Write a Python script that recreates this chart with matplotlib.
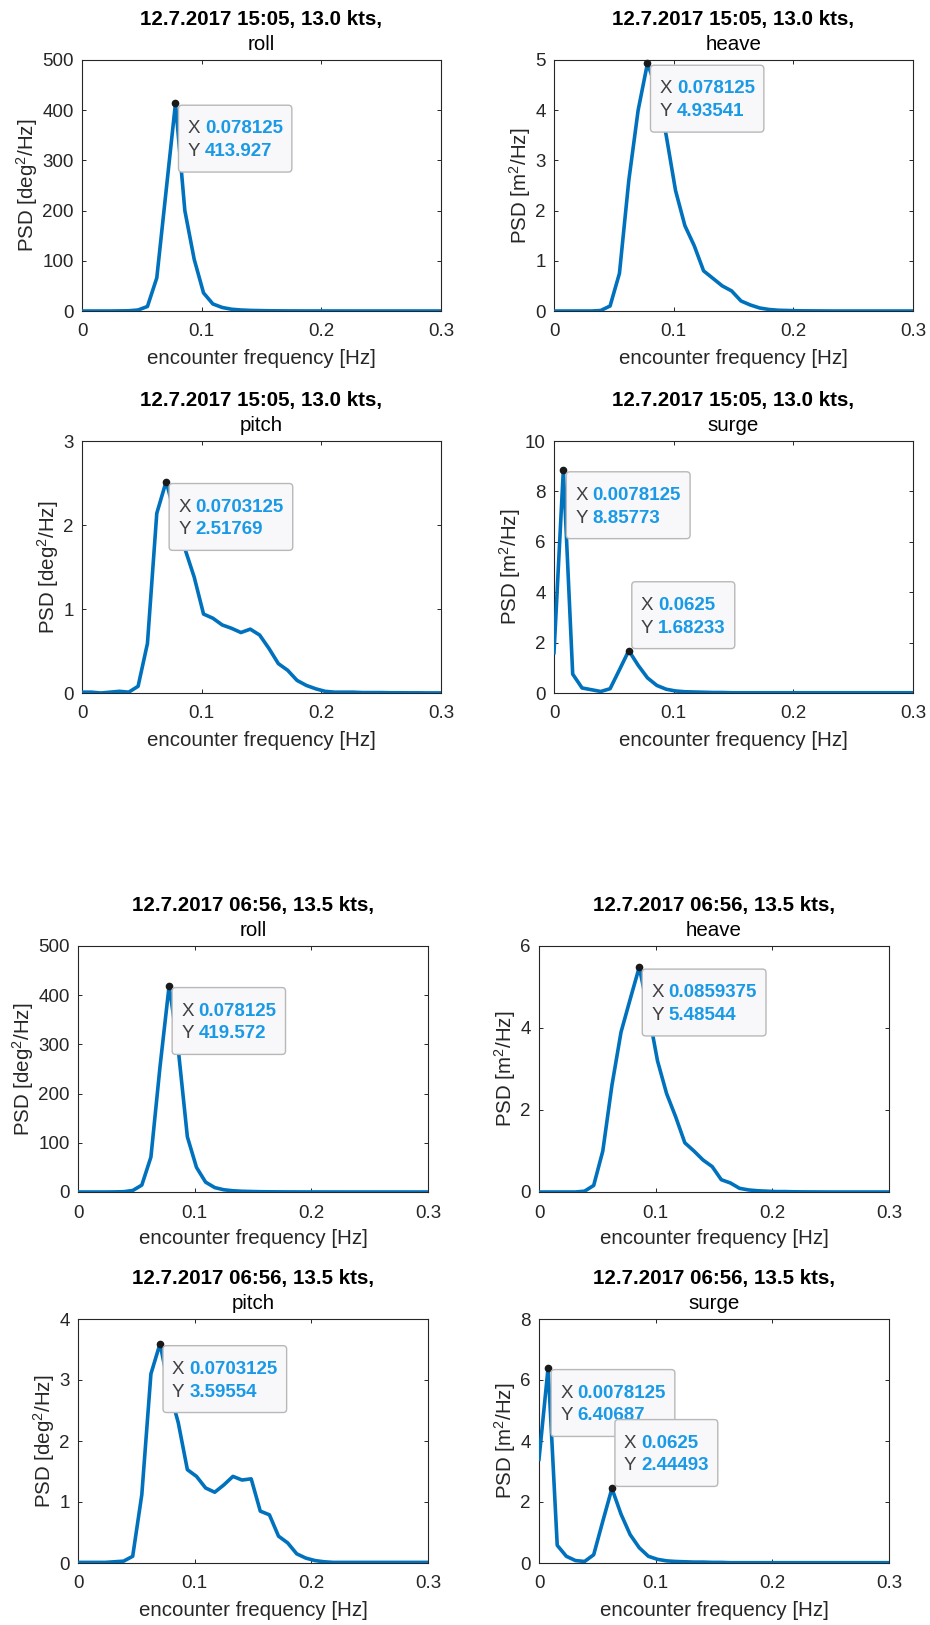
#!/usr/bin/env python3
"""
Encounter-frequency PSD of ship motions for two runs (MATLAB-style panels).
"""
import matplotlib
matplotlib.use("Agg")
import matplotlib.pyplot as plt
from matplotlib.patches import FancyBboxPatch
from matplotlib.transforms import Bbox

plt.rcParams['font.family'] = ['Liberation Sans', 'DejaVu Sans']
plt.rcParams['mathtext.default'] = 'regular'

# frequency grid (df = 1/128 Hz)
freq = [0.0, 0.0078125, 0.015625, 0.0234375, 0.03125, 0.0390625, 0.046875, 0.0546875,
        0.0625, 0.0703125, 0.078125, 0.0859375, 0.09375, 0.1015625, 0.109375, 0.1171875,
        0.125, 0.1328125, 0.140625, 0.1484375, 0.15625, 0.1640625, 0.171875, 0.1796875,
        0.1875, 0.1953125, 0.203125, 0.2109375, 0.21875, 0.2265625, 0.234375, 0.2421875,
        0.25, 0.2578125, 0.265625, 0.2734375, 0.28125, 0.2890625, 0.296875, 0.3046875]

# run 12.7.2017 15:05
roll_1505 = [0, 0, 0, 0, 0.2, 0.5, 2, 9, 66, 240, 413.927, 200, 103, 36, 14, 7, 3.5, 2,
             1.2, 0.8, 0.5, 0.3, 0.2, 0.15, 0.1, 0.1, 0.08, 0.06, 0.05, 0.04, 0.04, 0.03,
             0.03, 0.02, 0.02, 0.02, 0.01, 0.01, 0.01, 0.01]
heave_1505 = [0, 0, 0, 0, 0, 0.01, 0.1, 0.75, 2.6, 4.0, 4.93541, 4.4, 3.5, 2.4, 1.7, 1.3,
              0.8, 0.65, 0.5, 0.4, 0.2, 0.12, 0.06, 0.03, 0.015, 0.01, 0.005, 0.003,
              0.002, 0.001, 0, 0, 0, 0, 0, 0, 0, 0, 0, 0]
pitch_1505 = [0.01, 0.01, 0.0, 0.01, 0.02, 0.01, 0.08, 0.59, 2.14, 2.51769, 2.1, 1.72,
              1.38, 0.94, 0.89, 0.81, 0.77, 0.72, 0.76, 0.69, 0.53, 0.35, 0.27, 0.15,
              0.09, 0.05, 0.02, 0.01, 0.01, 0.01, 0.005, 0.005, 0.005, 0.003, 0.003,
              0.002, 0.002, 0.001, 0.001, 0.001]
surge_1505 = [1.6, 8.85773, 0.75, 0.2, 0.13, 0.06, 0.17, 0.92, 1.68233, 1.1, 0.6, 0.3,
              0.15, 0.08, 0.05, 0.04, 0.03, 0.02, 0.02, 0.01, 0.01, 0.01, 0.01, 0.01,
              0.01, 0.01, 0.01, 0.01, 0.01, 0.01, 0.01, 0.01, 0.01, 0.01, 0.01, 0.01,
              0.01, 0.01, 0.01, 0.01]

# run 12.7.2017 06:56
roll_0656 = [0, 0, 0, 0, 0.2, 0.6, 3, 14, 71, 255, 419.572, 290, 112, 50, 20, 9, 4.5, 2.5,
             1.5, 1, 0.6, 0.4, 0.3, 0.2, 0.15, 0.12, 0.1, 0.08, 0.06, 0.05, 0.04, 0.04,
             0.03, 0.03, 0.02, 0.02, 0.02, 0.01, 0.01, 0.01]
heave_0656 = [0, 0, 0, 0, 0, 0.02, 0.16, 1.0, 2.6, 3.9, 4.7, 5.48544, 4.4, 3.2, 2.4, 1.83,
              1.2, 1.0, 0.78, 0.62, 0.3, 0.22, 0.09, 0.05, 0.03, 0.02, 0.01, 0.01, 0.005,
              0.003, 0.002, 0.001, 0, 0, 0, 0, 0, 0, 0, 0]
pitch_0656 = [0.01, 0.01, 0.01, 0.01, 0.02, 0.03, 0.11, 1.12, 3.1, 3.59554, 2.85, 2.3,
              1.53, 1.42, 1.23, 1.16, 1.28, 1.42, 1.36, 1.38, 0.85, 0.79, 0.44, 0.33,
              0.15, 0.08, 0.04, 0.02, 0.01, 0.01, 0.01, 0.01, 0.01, 0.01, 0.01, 0.01,
              0.01, 0.01, 0.01, 0.01]
surge_0656 = [3.4, 6.40687, 0.58, 0.22, 0.08, 0.05, 0.27, 1.37, 2.44493, 1.6, 0.93, 0.5,
              0.22, 0.12, 0.07, 0.05, 0.04, 0.03, 0.03, 0.02, 0.02, 0.01, 0.01, 0.01,
              0.01, 0.01, 0.01, 0.01, 0.01, 0.01, 0.01, 0.01, 0.01, 0.01, 0.01, 0.01,
              0.01, 0.01, 0.01, 0.01]

run_titles = ['12.7.2017 15:05, 13.0 kts,', '12.7.2017 06:56, 13.5 kts,']
motions = ['roll', 'heave', 'pitch', 'surge']
ylabels = {'roll': 'PSD [deg$^2$/Hz]', 'pitch': 'PSD [deg$^2$/Hz]',
           'heave': 'PSD [m$^2$/Hz]', 'surge': 'PSD [m$^2$/Hz]'}

# data tips: (x, y, x text, y text, box above marker?)
tips_1505 = {
    'roll': [(0.078125, 413.927, '0.078125', '413.927', False)],
    'heave': [(0.078125, 4.93541, '0.078125', '4.93541', False)],
    'pitch': [(0.0703125, 2.51769, '0.0703125', '2.51769', False)],
    'surge': [(0.0078125, 8.85773, '0.0078125', '8.85773', False),
              (0.0625, 1.68233, '0.0625', '1.68233', True)],
}
tips_0656 = {
    'roll': [(0.078125, 419.572, '0.078125', '419.572', False)],
    'heave': [(0.0859375, 5.48544, '0.0859375', '5.48544', False)],
    'pitch': [(0.0703125, 3.59554, '0.0703125', '3.59554', False)],
    'surge': [(0.0078125, 6.40687, '0.0078125', '6.40687', False),
              (0.0625, 2.44493, '0.0625', '2.44493', True)],
}

ylims = {('1505', 'roll'): (500, 100), ('1505', 'heave'): (5, 1),
         ('1505', 'pitch'): (3, 1), ('1505', 'surge'): (10, 2),
         ('0656', 'roll'): (500, 100), ('0656', 'heave'): (6, 2),
         ('0656', 'pitch'): (4, 1), ('0656', 'surge'): (8, 2)}

W, H = 930, 1625
# axes rectangles in pixels: left, top, right, bottom
rects = {
    ('1505', 'roll'): (82, 60, 441, 311), ('1505', 'heave'): (554, 60, 913, 311),
    ('1505', 'pitch'): (82, 441, 441, 693), ('1505', 'surge'): (554, 441, 913, 693),
    ('0656', 'roll'): (78, 946, 428, 1192), ('0656', 'heave'): (539, 946, 889, 1192),
    ('0656', 'pitch'): (78, 1319, 428, 1563), ('0656', 'surge'): (539, 1319, 889, 1563),
}

LINE = '#0072BD'
AXC = '#262626'
TIPFS = 13.5
PADX, PAD_T, PAD_B = 9, 15, 12   # box padding around tip text, pixels

fig = plt.figure(figsize=(W / 100, H / 100), dpi=100)
boxes = []   # (ax, label text, value text, zorder)


def add_tip(ax, x, y, xs, ys, above, z):
    ax.plot([x], [y], 'o', ms=4.5, color='#1a1a1a', zorder=z, clip_on=False)
    va = 'bottom' if above else 'top'
    dx = (3 + PADX) * 0.72
    dy = (2 + PAD_B) * 0.72 if above else -(2 + PAD_T) * 0.72
    lab = ax.annotate("X\nY", xy=(x, y), xytext=(dx, dy),
                      textcoords='offset points', fontsize=TIPFS, linespacing=1.45,
                      va=va, ha='left', color='#404040', zorder=z + 2,
                      annotation_clip=False)
    val = ax.annotate(f"{xs}\n{ys}", xy=(1, 0 if above else 1), xycoords=lab,
                      xytext=(3.5, 0), textcoords='offset points', fontsize=TIPFS,
                      linespacing=1.45, va=va, ha='left', color='#1A9AE6',
                      fontweight='bold', zorder=z + 2, annotation_clip=False)
    boxes.append((ax, lab, val, z + 1))


runs = [('1505', run_titles[0], {'roll': roll_1505, 'heave': heave_1505,
                                 'pitch': pitch_1505, 'surge': surge_1505}, tips_1505),
        ('0656', run_titles[1], {'roll': roll_0656, 'heave': heave_0656,
                                 'pitch': pitch_0656, 'surge': surge_0656}, tips_0656)]

z = 10
for key, title, series, tips in runs:
    for m in motions:
        l, t, r, b = rects[(key, m)]
        ax = fig.add_axes([l / W, 1 - b / H, (r - l) / W, (b - t) / H])
        ax.plot(freq, series[m], color=LINE, lw=2.6, solid_joinstyle='round',
                clip_on=True, zorder=3)
        ymax, ystep = ylims[(key, m)]
        ax.set_xlim(0, 0.3)
        ax.set_ylim(0, ymax)
        ax.set_xticks([0, 0.1, 0.2, 0.3])
        ax.set_xticklabels(['0', '0.1', '0.2', '0.3'])
        ax.set_yticks(list(range(0, ymax + 1, ystep)))
        ax.tick_params(direction='in', length=3, width=0.7, colors=AXC,
                       labelsize=13.5, top=True, right=True)
        ax.tick_params(axis='x', pad=9)
        ax.tick_params(axis='y', pad=6)
        for sp in ax.spines.values():
            sp.set_color(AXC)
            sp.set_linewidth(0.8)
        ax.set_xlabel('encounter frequency [Hz]', fontsize=14.8, color=AXC, va='center')
        ax.xaxis.set_label_coords(0.5, -47 / (b - t))
        ax.set_ylabel(ylabels[m], fontsize=14.8, color=AXC, labelpad=1.5)
        ax.annotate(title, xy=(0.5, 1), xycoords='axes fraction', xytext=(0, 29),
                    textcoords='offset points', ha='center', va='center',
                    fontsize=14.8, fontweight='bold', color='black')
        ax.annotate(m, xy=(0.5, 1), xycoords='axes fraction', xytext=(0, 11.5),
                    textcoords='offset points', ha='center', va='center',
                    fontsize=14.8, color='black')
        for tip in tips[m]:
            add_tip(ax, *tip, z)
            z += 3

# draw the data-tip boxes around the measured text
fig.canvas.draw()
rend = fig.canvas.get_renderer()
for ax, lab, val, zb in boxes:
    bb = Bbox.union([lab.get_window_extent(rend), val.get_window_extent(rend)])
    x0, y0 = bb.x0 - PADX, bb.y0 - PAD_B
    x1, y1 = bb.x1 + PADX, bb.y1 + PAD_T
    (ax0, ay0), (ax1, ay1) = ax.transAxes.inverted().transform([(x0, y0), (x1, y1)])
    asp = (ax.bbox.width / ax.bbox.height)
    patch = FancyBboxPatch((ax0, ay0), ax1 - ax0, ay1 - ay0,
                           boxstyle='round,pad=0,rounding_size=0.01',
                           mutation_aspect=asp, transform=ax.transAxes,
                           fc='#F8F8FA', ec='#B8B8B8', lw=1.0, zorder=zb,
                           clip_on=False)
    ax.add_patch(patch)

plt.savefig('out.png', dpi=100)
